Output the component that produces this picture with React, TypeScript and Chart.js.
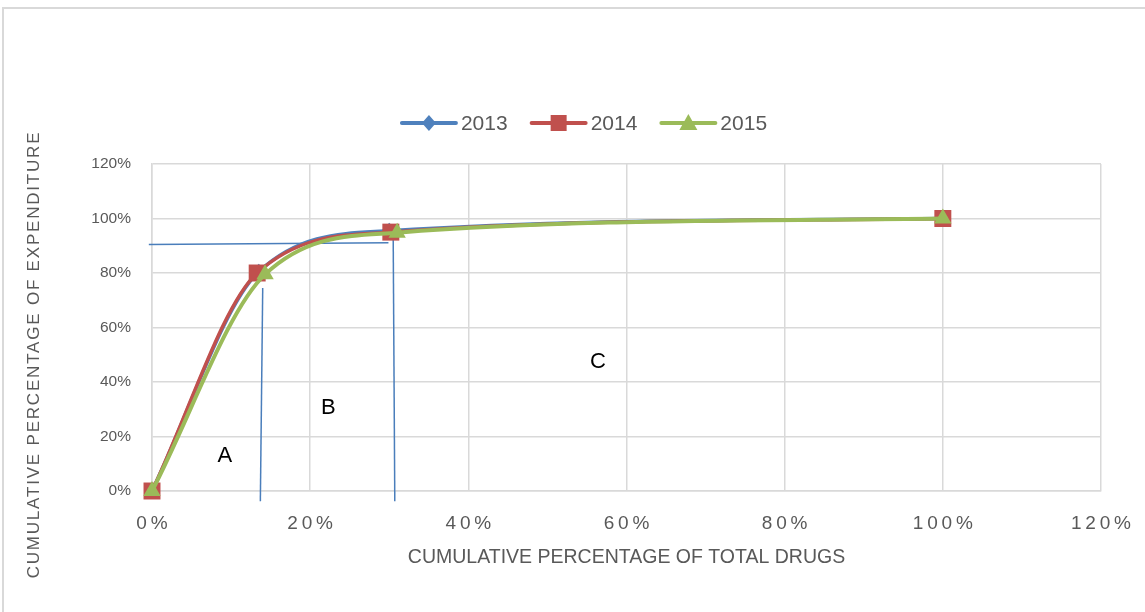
import React, { useEffect, useRef } from "react";
import { Chart, registerables } from "chart.js";

Chart.register(...registerables);

// Cumulative share of drugs (x, %) vs cumulative share of expenditure (y, %)
const seriesNames = ["2013", "2014", "2015"];
const drugs2013 = [0, 13.5, 30, 100];
const spend2013 = [0, 80.5, 95.5, 100];
const drugs2014 = [0, 13.3, 30.2, 100];
const spend2014 = [0, 80, 95, 100];
const drugs2015 = [0, 14.3, 31, 100];
const spend2015 = [0, 79.5, 94.8, 100];

const seriesColors = ["#4f81bd", "#c0504d", "#9bbb59"];
const seriesMarkers = ["rectRot", "rect", "triangle"];
const markerRadius = [8, 12, 10];

// ABC class boundaries (x %, y %)
const guideH = [
  [-0.4, 90.5],
  [29.9, 91.1],
];
const guideV1 = [
  [14.0, 74.5],
  [13.7, -3.8],
];
const guideV2 = [
  [30.5, 92.5],
  [30.7, -3.8],
];
const zoneLabels = ["A", "B", "C"];
const zoneX = [9.2, 22.3, 56.4];
const zoneY = [13.0, 30.4, 47.3];

const xTicks = [0, 20, 40, 60, 80, 100, 120];
const xTitle = "CUMULATIVE PERCENTAGE OF TOTAL DRUGS";
const yTitle = "CUMULATIVE PERCENTAGE OF EXPENDITURE";

const SANS = "'Liberation Sans', Arial, sans-serif";
const GREY = "#595959";

const pts = (xs: number[], ys: number[]) => xs.map((x, i) => ({ x, y: ys[i] }));

const abcPlugin = {
  id: "abcGuides",
  beforeDatasetsDraw(chart: any) {
    const { ctx, scales } = chart;
    const xs = scales.x;
    const ys = scales.y;
    ctx.save();
    ctx.strokeStyle = "#4a7ebb";
    ctx.lineWidth = 1.5;
    for (const seg of [guideH, guideV1, guideV2]) {
      ctx.beginPath();
      ctx.moveTo(xs.getPixelForValue(seg[0][0]), ys.getPixelForValue(seg[0][1]));
      ctx.lineTo(xs.getPixelForValue(seg[1][0]), ys.getPixelForValue(seg[1][1]));
      ctx.stroke();
    }
    ctx.fillStyle = "#000000";
    ctx.font = `22px ${SANS}`;
    ctx.textAlign = "center";
    ctx.textBaseline = "middle";
    zoneLabels.forEach((t, i) => {
      ctx.fillText(t, xs.getPixelForValue(zoneX[i]), ys.getPixelForValue(zoneY[i]));
    });
    ctx.restore();
  },
};

// Axis titles, drawn with their own letter spacing
const axisTitlePlugin = {
  id: "axisTitles",
  afterDraw(chart: any) {
    const { ctx, chartArea } = chart;
    ctx.save();
    ctx.fillStyle = GREY;
    ctx.textAlign = "center";
    ctx.textBaseline = "middle";
    ctx.font = `19.5px ${SANS}`;
    (ctx as any).letterSpacing = "0px";
    ctx.fillText(xTitle, (chartArea.left + chartArea.right) / 2, 558);
    ctx.translate(34, (chartArea.top + chartArea.bottom) / 2 + 27);
    ctx.rotate(-Math.PI / 2);
    ctx.font = `17px ${SANS}`;
    (ctx as any).letterSpacing = "1.8px";
    ctx.fillText(yTitle, 0, 0);
    ctx.restore();
  },
};

const legendPlugin = {
  id: "lineLegend",
  afterDraw(chart: any) {
    const { ctx } = chart;
    ctx.save();
    ctx.font = `21px ${SANS}`;
    const lineLen = 54;
    const gapText = 5;
    const gapItem = 24;
    const widths = seriesNames.map((n) => ctx.measureText(n).width);
    const total =
      widths.reduce((a, w) => a + lineLen + gapText + w, 0) + gapItem * (seriesNames.length - 1);
    let x = chart.width / 2 + 12 - total / 2;
    const y = 123;
    seriesNames.forEach((name, i) => {
      ctx.strokeStyle = seriesColors[i];
      ctx.lineWidth = 4;
      ctx.lineCap = "round";
      ctx.beginPath();
      ctx.moveTo(x, y);
      ctx.lineTo(x + lineLen, y);
      ctx.stroke();
      ctx.fillStyle = seriesColors[i];
      ctx.beginPath();
      const cx = x + lineLen / 2;
      if (i === 0) {
        ctx.moveTo(cx, y - 8);
        ctx.lineTo(cx + 7, y);
        ctx.lineTo(cx, y + 8);
        ctx.lineTo(cx - 7, y);
      } else if (i === 1) {
        ctx.rect(cx - 8, y - 8, 16, 16);
      } else {
        ctx.moveTo(cx, y - 9);
        ctx.lineTo(cx + 9, y + 7);
        ctx.lineTo(cx - 9, y + 7);
      }
      ctx.closePath();
      ctx.fill();
      ctx.fillStyle = GREY;
      ctx.textAlign = "left";
      ctx.textBaseline = "middle";
      ctx.fillText(name, x + lineLen + gapText, y + 1);
      x += lineLen + gapText + widths[i] + gapItem;
    });
    ctx.restore();
  },
};

export default function App() {
  const ref = useRef<HTMLCanvasElement | null>(null);

  useEffect(() => {
    if (!ref.current) return;
    const data = [pts(drugs2013, spend2013), pts(drugs2014, spend2014), pts(drugs2015, spend2015)];
    const chart = new Chart(ref.current, {
      type: "scatter",
      data: {
        datasets: seriesNames.map((name, i) => ({
          label: name,
          data: data[i],
          showLine: true,
          clip: false,
          cubicInterpolationMode: "monotone" as const,
          borderColor: seriesColors[i],
          backgroundColor: seriesColors[i],
          borderWidth: i === 2 ? 4 : 3.5,
          pointStyle: seriesMarkers[i] as any,
          pointRadius: markerRadius[i],
          pointHoverRadius: markerRadius[i],
          pointBorderWidth: 0,
          order: seriesNames.length - i,
        })),
      },
      options: {
        animation: false,
        responsive: false,
        devicePixelRatio: 1,
        layout: { padding: { top: 164, right: 44, left: 0, bottom: 0 } },
        plugins: { legend: { display: false }, tooltip: { enabled: false } },
        scales: {
          x: {
            type: "linear",
            min: 0,
            max: 120,
            afterBuildTicks: (s: any) => {
              s.ticks = xTicks.map((v) => ({ value: v }));
            },
            afterFit: (s: any) => {
              s.height = 121;
              s.paddingLeft = 0;
              s.paddingRight = 0;
            },
            grid: { color: "#d9d9d9", lineWidth: 1.5, drawTicks: false },
            border: { color: "#d9d9d9", width: 1.5 },
            ticks: {
              padding: 21,
              color: GREY,
              font: { family: SANS, size: 19 },
              callback: (v: any) => String(v).split("").join("\u2009") + "\u2009%",
            },
          },
          y: {
            type: "linear",
            min: 0,
            max: 120,
            ticks: {
              stepSize: 20,
              padding: 21,
              color: GREY,
              font: { family: SANS, size: 15.5 },
              callback: (v: any) => v + "%",
            },
            afterFit: (s: any) => {
              s.width = 152;
              s.paddingTop = 0;
              s.paddingBottom = 0;
            },
            grid: { color: "#d9d9d9", lineWidth: 1.5, drawTicks: false },
            border: { color: "#d9d9d9", width: 1.5 },
          },
        },
      },
      plugins: [abcPlugin, axisTitlePlugin, legendPlugin],
    });
    return () => chart.destroy();
  }, []);

  return (
    <div style={{ position: "fixed", left: 0, top: 0, width: 1145, height: 612, background: "#ffffff" }}>
      <div
        style={{
          position: "absolute",
          left: 2,
          top: 7,
          width: 1160,
          height: 620,
          border: "2px solid #d9d9d9",
          boxSizing: "border-box",
        }}
      />
      <canvas
        ref={ref}
        width={1145}
        height={612}
        style={{ position: "absolute", left: 0, top: 0, width: 1145, height: 612 }}
      />
    </div>
  );
}
